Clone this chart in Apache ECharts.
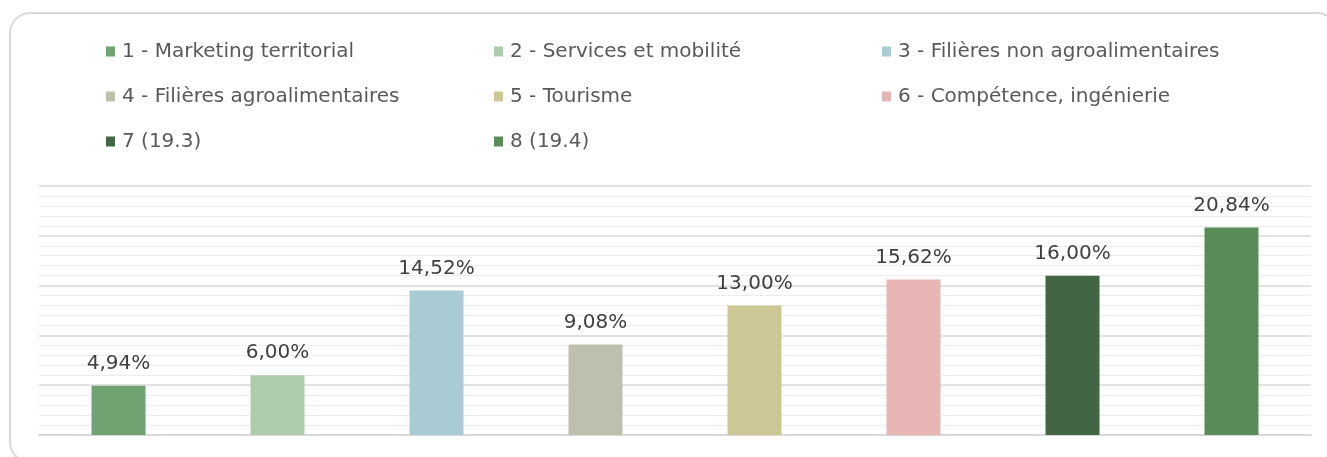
<!DOCTYPE html>
<html>
<head>
<meta charset="utf-8">
<script src="https://cdn.jsdelivr.net/npm/echarts@6/dist/echarts.min.js"></script>
<style>
  html, body { margin: 0; padding: 0; background: #fff; }
  #chart { width: 1327px; height: 457px; }
</style>
</head>
<body>
<div id="chart"></div>
<script>
// données
var categories = ['1 - Marketing territorial', '2 - Services et mobilité', '3 - Filières non agroalimentaires',
  '4 - Filières agroalimentaires', '5 - Tourisme', '6 - Compétence, ingénierie', '7 (19.3)', '8 (19.4)'];
var values = [4.94, 6.00, 14.52, 9.08, 13.00, 15.62, 16.00, 20.84];
var colors = ['#70a372', '#aecbae', '#a8cbd4', '#bfbfae', '#cdc695', '#e8b5b5', '#426644', '#5a8c59'];

var font = '"DejaVu Sans", sans-serif';

// une série par barre pour avoir une légende par catégorie
var series = categories.map(function (name, i) {
  var d = categories.map(function (c, j) { return j === i ? values[i] : '-'; });
  return {
    name: name,
    type: 'bar',
    stack: 'tout',
    barWidth: 54,
    data: d,
    itemStyle: { color: colors[i] },
    label: {
      show: true,
      position: 'top',
      distance: 12,
      color: '#404040',
      fontSize: 20,
      fontFamily: font,
      formatter: function (p) { return p.value.toFixed(2).replace('.', ',') + '%'; }
    }
  };
});

// légende en trois colonnes
function legendCol(idx, left) {
  return {
    orient: 'vertical',
    left: left,
    top: 35,
    itemGap: 22,
    itemWidth: 9,
    itemHeight: 10,
    icon: 'rect',
    selectedMode: false,
    data: idx.map(function (i) { return categories[i]; }),
    textStyle: { color: '#595959', fontSize: 20, fontFamily: font, padding: [0, 0, 0, 2], lineHeight: 23 }
  };
}

var chart = echarts.init(document.getElementById('chart'));
chart.setOption({
  animation: false,
  graphic: [{
    type: 'rect',
    shape: { x: 10, y: 13, width: 1327, height: 449, r: 20 },
    style: { fill: 'none', stroke: '#d9d9d9', lineWidth: 2 },
    z: -1
  }],
  legend: [legendCol([0, 3, 6], 101), legendCol([1, 4, 7], 489), legendCol([2, 5], 877)],
  grid: { left: 39, right: 16, top: 186, bottom: 22 },
  xAxis: {
    type: 'category',
    data: categories,
    axisLine: { show: true, lineStyle: { color: '#d9d9d9', width: 2 } },
    axisTick: { show: false },
    axisLabel: { show: false }
  },
  yAxis: {
    type: 'value',
    min: 0,
    max: 25,
    interval: 5,
    axisLabel: { show: false },
    axisLine: { show: false },
    axisTick: { show: false },
    splitLine: { lineStyle: { color: '#d9d9d9', width: 1.5 } },
    minorTick: { show: false, splitNumber: 5 },
    minorSplitLine: { show: true, lineStyle: { color: '#ececec', width: 1 } }
  },
  series: series
});
</script>
</body>
</html>
